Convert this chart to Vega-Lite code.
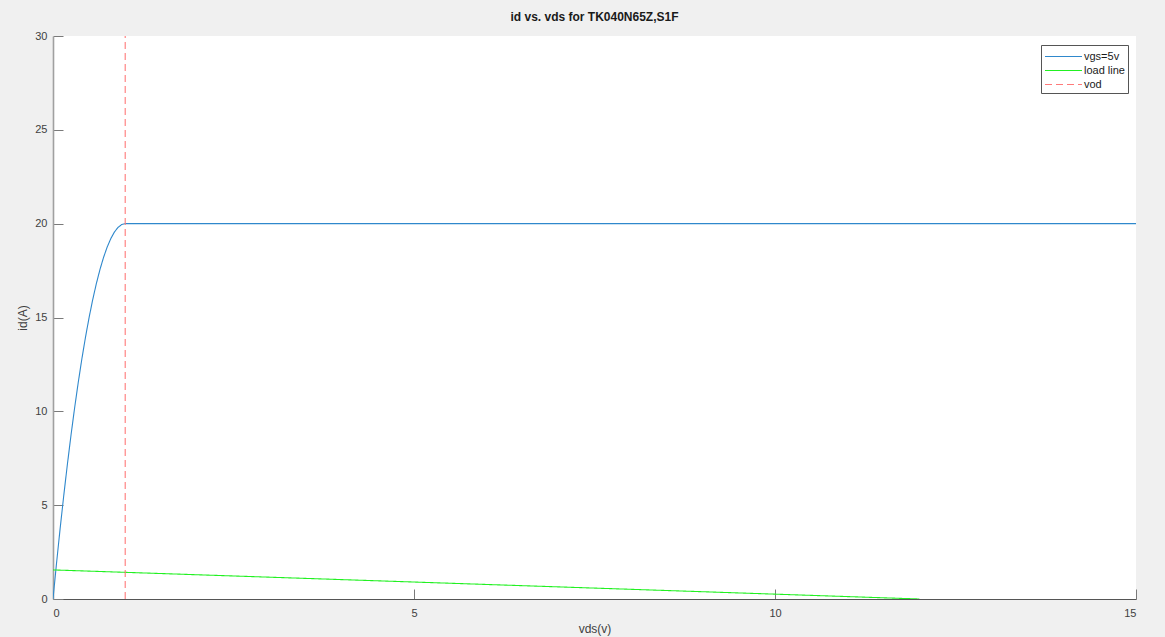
{
  "$schema": "https://vega.github.io/schema/vega-lite/v6.json",
  "width": 1083,
  "height": 563,
  "autosize": {"type": "none"},
  "padding": {"left": 53, "top": 36, "right": 29, "bottom": 38},
  "background": "#f0f0f0",
  "title": {"text": "id vs. vds for TK040N65Z,S1F", "fontSize": 12, "fontWeight": "bold", "font": "Liberation Sans", "color": "#1a1a1a", "offset": 6, "anchor": "middle"},
  "config": {"view": {"fill": "white", "stroke": null}, "font": "Liberation Sans"},
  "data": {"values": [
    {"series": "vgs=5v", "i": 0, "vds": 0, "id": 0},
    {"series": "vgs=5v", "i": 1, "vds": 0.05, "id": 1.95},
    {"series": "vgs=5v", "i": 2, "vds": 0.1, "id": 3.8},
    {"series": "vgs=5v", "i": 3, "vds": 0.15, "id": 5.55},
    {"series": "vgs=5v", "i": 4, "vds": 0.2, "id": 7.2},
    {"series": "vgs=5v", "i": 5, "vds": 0.25, "id": 8.75},
    {"series": "vgs=5v", "i": 6, "vds": 0.3, "id": 10.2},
    {"series": "vgs=5v", "i": 7, "vds": 0.35, "id": 11.55},
    {"series": "vgs=5v", "i": 8, "vds": 0.4, "id": 12.8},
    {"series": "vgs=5v", "i": 9, "vds": 0.45, "id": 13.95},
    {"series": "vgs=5v", "i": 10, "vds": 0.5, "id": 15},
    {"series": "vgs=5v", "i": 11, "vds": 0.55, "id": 15.95},
    {"series": "vgs=5v", "i": 12, "vds": 0.6, "id": 16.8},
    {"series": "vgs=5v", "i": 13, "vds": 0.65, "id": 17.55},
    {"series": "vgs=5v", "i": 14, "vds": 0.7, "id": 18.2},
    {"series": "vgs=5v", "i": 15, "vds": 0.75, "id": 18.75},
    {"series": "vgs=5v", "i": 16, "vds": 0.8, "id": 19.2},
    {"series": "vgs=5v", "i": 17, "vds": 0.85, "id": 19.55},
    {"series": "vgs=5v", "i": 18, "vds": 0.9, "id": 19.8},
    {"series": "vgs=5v", "i": 19, "vds": 0.95, "id": 19.95},
    {"series": "vgs=5v", "i": 20, "vds": 1, "id": 20},
    {"series": "vgs=5v", "i": 21, "vds": 15, "id": 20},
    {"series": "load line", "i": 0, "vds": 0, "id": 1.55},
    {"series": "load line", "i": 1, "vds": 12, "id": 0},
    {"series": "vod", "i": 0, "vds": 1, "id": 0},
    {"series": "vod", "i": 1, "vds": 1, "id": 30}
  ]},
  "mark": {"type": "line", "strokeWidth": 1.1, "clip": true},
  "encoding": {
    "x": {"field": "vds", "type": "quantitative", "scale": {"domain": [0, 15], "nice": false, "zero": false},
      "axis": {"title": "vds(v)", "values": [0, 5, 10, 15], "grid": false, "tickSize": -10, "tickColor": "#7a7a7a", "domainColor": "#555555", "domainWidth": 1.2, "labelFontSize": 11, "labelColor": "#404040", "labelPadding": 18, "titleFontSize": 12, "titleFontWeight": "normal", "titleColor": "#404040", "titlePadding": 5}},
    "y": {"field": "id", "type": "quantitative", "scale": {"domain": [0, 30], "nice": false},
      "axis": {"title": "id(A)", "values": [0, 5, 10, 15, 20, 25, 30], "grid": false, "tickSize": -10, "tickColor": "#7a7a7a", "domainColor": "#a0a0a0", "domainWidth": 1.6, "labelFontSize": 11, "labelColor": "#404040", "labelPadding": 16, "titleFontSize": 12, "titleFontWeight": "normal", "titleColor": "#404040", "titlePadding": 5}},
    "color": {"field": "series", "type": "nominal",
      "scale": {"domain": ["vgs=5v", "load line", "vod"], "range": ["#2f88cc", "#22f022", "#ff7a7a"]},
      "legend": {"title": null, "orient": "none", "legendX": 988, "legendY": 9, "symbolType": "M-1,0H3.93", "symbolSize": 225, "symbolStrokeWidth": 1.2, "symbolFillColor": "transparent", "labelFontSize": 11, "labelColor": "#1a1a1a", "fillColor": "white", "strokeColor": "#555555", "padding": 3, "rowPadding": 0, "labelOffset": 23}},
    "strokeDash": {"field": "series", "type": "nominal",
      "scale": {"domain": ["vgs=5v", "load line", "vod"], "range": [[1, 0], [1, 0], [7, 4]]},
      "legend": {"title": null, "orient": "none", "legendX": 988, "legendY": 9, "symbolType": "M-1,0H3.93", "symbolSize": 225, "symbolStrokeWidth": 1.2, "symbolFillColor": "transparent", "labelFontSize": 11, "labelColor": "#1a1a1a", "fillColor": "white", "strokeColor": "#555555", "padding": 3, "rowPadding": 0, "labelOffset": 23}},
    "order": {"field": "i", "type": "quantitative"}
  }
}
